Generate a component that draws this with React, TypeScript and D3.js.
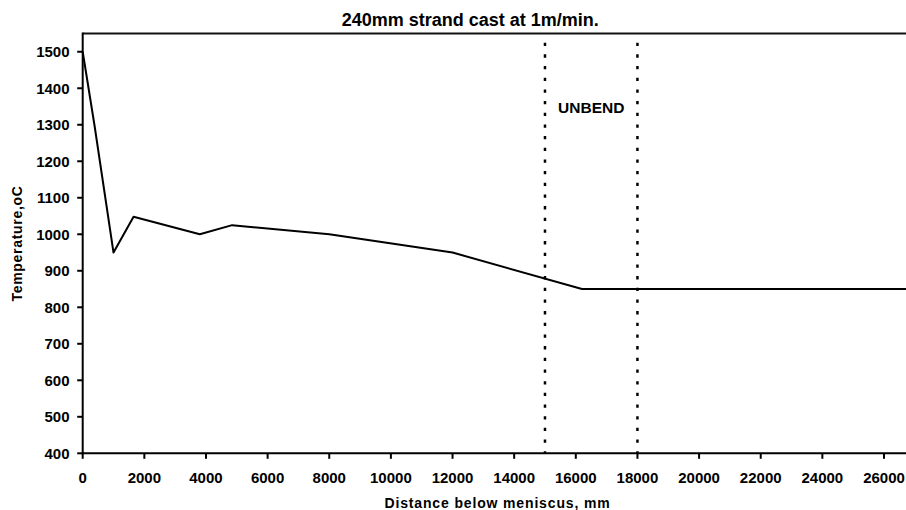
import React from "react";
import * as d3 from "d3";

const distance = [0, 380, 1000, 1650, 3800, 4850, 8000, 12000, 16200, 26714];
const temperature = [1500, 1300, 950, 1048, 1000, 1025, 1000, 950, 850, 850];
const xTicks = [0, 2000, 4000, 6000, 8000, 10000, 12000, 14000, 16000, 18000, 20000, 22000, 24000, 26000];
const yTicks = [400, 500, 600, 700, 800, 900, 1000, 1100, 1200, 1300, 1400, 1500];
const markers = [15000, 18000];
const title = "240mm strand cast at 1m/min.";
const xTitle = "Distance below meniscus, mm";
const yTitle = "Temperature,oC";
const markerLabel = "UNBEND";

export default function App() {
  const W = 906, H = 510;
  const left = 82.7, right = 906, top = 33.5, bottom = 453.3;
  const x = d3.scaleLinear().domain([0, 26714]).range([left, right]);
  const y = d3.scaleLinear().domain([400, 1550]).range([bottom, top]);
  const pts = distance.map((d, i) => [d, temperature[i]] as [number, number]);
  const line = d3.line<[number, number]>().x(d => x(d[0])).y(d => y(d[1]));
  const font = "'Liberation Sans', Arial, sans-serif";
  return (
    <svg width={W} height={H} style={{ position: "fixed", left: 0, top: 0, background: "#fff" }}
      fontFamily={font}>
      <rect x={0} y={0} width={W} height={H} fill="#fff" />
      <text x={470.3} y={26} textAnchor="middle" fontSize={18} fontWeight="bold" fill="#000">{title}</text>
      {/* top border */}
      <line x1={left} x2={W} y1={top} y2={top} stroke="#111" strokeWidth={2} />
      {/* markers */}
      {markers.map(m => (
        <line key={m} x1={x(m)} x2={x(m)} y1={42.7} y2={bottom} stroke="#000" strokeWidth={2.5}
          strokeDasharray="3.3 8.37" />
      ))}
      <text x={(x(markers[0]) + x(markers[1])) / 2} y={113.3} textAnchor="middle" fontSize={15.5}
        fontWeight="bold" fill="#000">{markerLabel}</text>
      {/* data */}
      <path d={line(pts) || ""} fill="none" stroke="#000" strokeWidth={2} strokeLinejoin="round" />
      {/* axes */}
      <line x1={left} x2={left} y1={top - 1} y2={bottom + 1} stroke="#000" strokeWidth={2} />
      <line x1={left - 1} x2={W} y1={bottom} y2={bottom} stroke="#000" strokeWidth={2} />
      {yTicks.map(t => (
        <g key={t}>
          <line x1={left - 5.5} x2={left} y1={y(t)} y2={y(t)} stroke="#000" strokeWidth={2} />
          <text x={69.5} y={y(t) + 5.4} textAnchor="end" fontSize={15} fontWeight="bold" fill="#000">{t}</text>
        </g>
      ))}
      {xTicks.map(t => (
        <g key={t}>
          <line x1={x(t)} x2={x(t)} y1={bottom} y2={bottom + 5.5} stroke="#000" strokeWidth={2} />
          <text x={x(t)} y={482.7} textAnchor="middle" fontSize={15} fontWeight="bold" fill="#000">{t}</text>
        </g>
      ))}
      <text x={497.5} y={507.5} textAnchor="middle" fontSize={14} fontWeight="bold" letterSpacing={0.85} fill="#000">{xTitle}</text>
      <text transform={`translate(21.5, 243.5) rotate(-90)`} textAnchor="middle" fontSize={14}
        fontWeight="bold" letterSpacing={0.7} fill="#000">{yTitle}</text>
    </svg>
  );
}
